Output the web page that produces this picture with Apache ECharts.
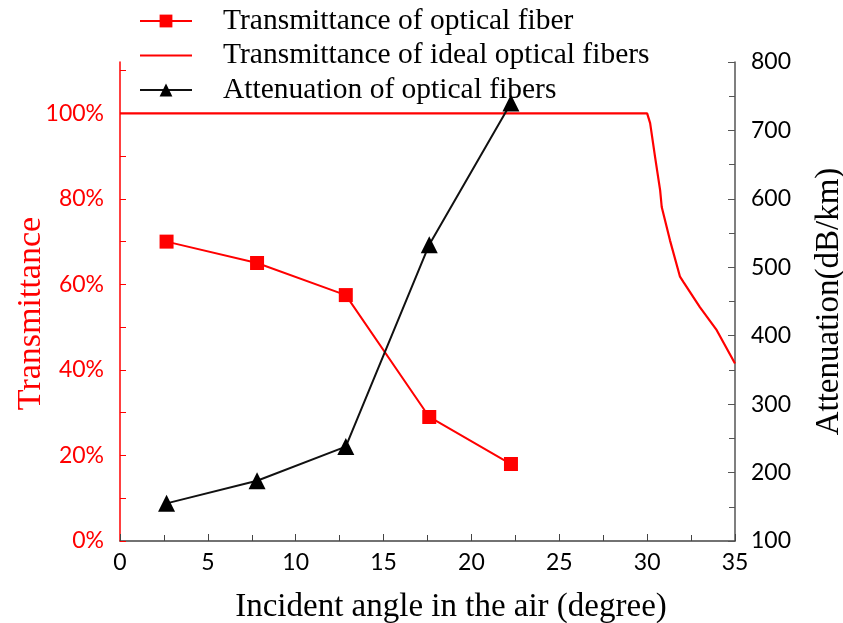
<!DOCTYPE html>
<html>
<head>
<meta charset="utf-8">
<script src="https://cdn.jsdelivr.net/npm/echarts@6/dist/echarts.min.js"></script>
<style>html,body{margin:0;padding:0;background:#fff}#c{width:843px;height:623px}</style>
</head>
<body>
<div id="c"></div>
<script>
// Measured data
const fiberX = [2.65, 7.8, 12.85, 17.6, 22.25];
const fiberY = [70, 65, 57.5, 29, 18];
const attenX = [2.65, 7.8, 12.85, 17.6, 22.25];
const attenY = [155, 188, 238, 533, 740];
const idealX = [0, 30, 30.17, 30.45, 30.74, 30.83, 31.3, 31.87, 32.06, 33.0, 33.96, 35.0];
const idealY = [100, 100, 97.7, 89.8, 82, 78.1, 70.3, 61.8, 60.6, 54.7, 49.3, 41.5];
const xTicks = [0, 5, 10, 15, 20, 25, 30, 35];
const leftLabels = [0, 20, 40, 60, 80, 100];
const leftTicks = [0, 10, 20, 30, 40, 50, 60, 70, 80, 90, 100, 110];
const rightTicks = [100, 200, 300, 400, 500, 600, 700, 800];

const zip = (a, b) => a.map((v, i) => [v, b[i]]);
const RED = '#ff0000';
const serif = '"Liberation Serif", serif';
const sans = 'Lato, sans-serif';

const chart = echarts.init(document.getElementById('c'));
chart.setOption({
  animation: false,
  backgroundColor: '#fff',
  grid: { left: 120, right: 108, top: 62, bottom: 82, containLabel: false, outerBoundsMode: 'none' },
  legend: {
    orient: 'vertical', left: 139, top: 6, padding: 0,
    itemWidth: 52, itemHeight: 16, itemGap: 4.5,
    textStyle: { fontFamily: serif, fontSize: 29.5, color: '#000', lineHeight: 30, padding: [0, 0, 0, 26] },
    data: [
      { name: 'Transmittance of optical fiber' },
      { name: 'Transmittance of ideal optical fibers', itemStyle: { opacity: 0 } },
      { name: 'Attenuation of optical fibers' }
    ]
  },
  xAxis: {
    type: 'value', min: 0, max: 35, interval: 5,
    name: 'Incident angle in the air (degree)', nameLocation: 'middle', nameGap: 50,
    nameMoveOverlap: false,
    nameTextStyle: { fontFamily: serif, fontSize: 33, color: '#000', padding: [0, 0, 0, 47] },
    axisLine: { lineStyle: { color: '#444', width: 1.5 } },
    axisTick: { inside: true, length: 7, lineStyle: { color: '#444' } },
    minorTick: { show: true, splitNumber: 2, length: 6, lineStyle: { color: '#444' } },
    axisLabel: { fontFamily: sans, fontSize: 23, color: '#000', margin: 10 },
    splitLine: { show: false }
  },
  yAxis: [
    {
      type: 'value', min: 0, max: 112, position: 'left',
      name: 'Transmittance', nameLocation: 'middle', nameGap: 72,
      nameMoveOverlap: false,
      nameTextStyle: { fontFamily: serif, fontSize: 34, color: RED, padding: [0, 24, 0, 0] },
      axisLine: { show: true, lineStyle: { color: RED, width: 1.5 } },
      axisTick: { show: true, inside: true, length: 6, customValues: leftTicks, lineStyle: { color: RED } },
      axisLabel: { customValues: leftLabels, fontFamily: sans, fontSize: 23, color: RED, margin: 16, formatter: v => v + '%' },
      splitLine: { show: false }
    },
    {
      type: 'value', min: 100, max: 800, interval: 100, position: 'right',
      name: 'Attenuation(dB/km)', nameLocation: 'middle', nameGap: 78,
      nameMoveOverlap: false,
      nameTextStyle: { fontFamily: serif, fontSize: 33, color: '#000' },
      axisLine: { show: true, lineStyle: { color: '#555', width: 1.5 } },
      axisTick: { show: true, inside: true, length: 7, lineStyle: { color: '#555' } },
      minorTick: { show: true, splitNumber: 2, length: 6, lineStyle: { color: '#555' } },
      axisLabel: { fontFamily: sans, fontSize: 23, color: '#000', margin: 16 },
      splitLine: { show: false }
    }
  ],
  series: [
    {
      name: 'Transmittance of optical fiber', type: 'line', yAxisIndex: 0,
      data: zip(fiberX, fiberY), symbol: 'rect', symbolSize: 14,
      itemStyle: { color: RED }, lineStyle: { color: RED, width: 2 }
    },
    {
      name: 'Transmittance of ideal optical fibers', type: 'line', yAxisIndex: 0,
      data: zip(idealX, idealY), symbol: 'none', showSymbol: false,
      itemStyle: { color: RED }, lineStyle: { color: RED, width: 2.2 }
    },
    {
      name: 'Attenuation of optical fibers', type: 'line', yAxisIndex: 1,
      data: zip(attenX, attenY), symbol: 'triangle', symbolSize: 17,
      itemStyle: { color: '#000' }, lineStyle: { color: '#111', width: 2 }
    }
  ]
});
</script>
</body>
</html>
